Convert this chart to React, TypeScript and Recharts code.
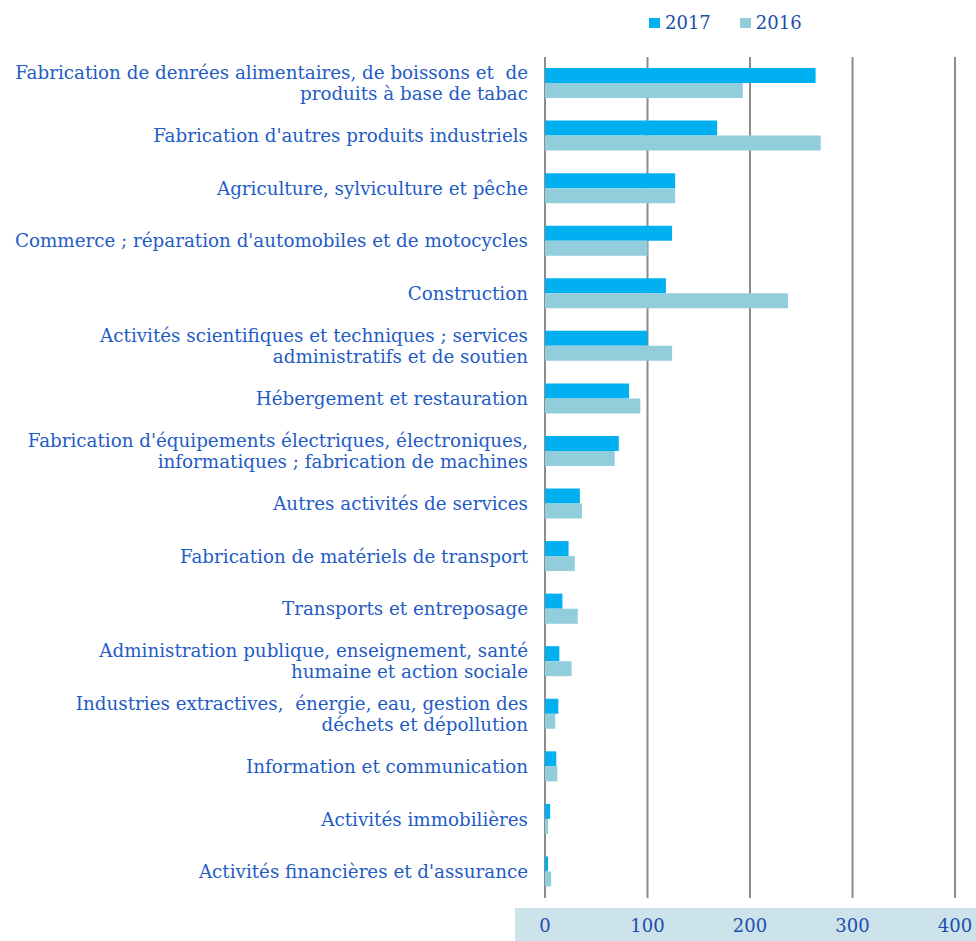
import { BarChart, Bar, XAxis, YAxis, CartesianGrid } from "recharts";

const categories = [
  "Fabrication de denrées alimentaires, de boissons et  de\nproduits à base de tabac",
  "Fabrication d'autres produits industriels",
  "Agriculture, sylviculture et pêche",
  "Commerce ; réparation d'automobiles et de motocycles",
  "Construction",
  "Activités scientifiques et techniques ; services\nadministratifs et de soutien",
  "Hébergement et restauration",
  "Fabrication d'équipements électriques, électroniques,\ninformatiques ; fabrication de machines",
  "Autres activités de services",
  "Fabrication de matériels de transport",
  "Transports et entreposage",
  "Administration publique, enseignement, santé\nhumaine et action sociale",
  "Industries extractives,  énergie, eau, gestion des\ndéchets et dépollution",
  "Information et communication",
  "Activités immobilières",
  "Activités financières et d'assurance",
];

const values2017 = [264, 168, 127, 124, 118, 100, 82, 72, 34, 23, 17, 14, 13, 11, 5, 3];
const values2016 = [193, 269, 127, 100, 237, 124, 93, 68, 36, 29, 32, 26, 10, 12, 3, 6];
const xTicks = [0, 100, 200, 300, 400];

const data = categories.map((name, i) => ({ name, y2017: values2017[i], y2016: values2016[i] }));

const FONT = "'DejaVu Serif', Georgia, serif";
const LABEL = "#1f5cc6";
const DARK = "#1b4fae";

function CategoryTick({ x, y, payload }: any) {
  const lines = String(payload.value).split("\n");
  const lh = 21;
  return (
    <text x={x} y={y} textAnchor="end" fill={LABEL} fontSize={18.3} fontFamily={FONT} style={{ whiteSpace: "pre" }}>
      {lines.map((l, i) => (
        <tspan key={i} x={x} y={y + (i - (lines.length - 1) / 2) * lh} dominantBaseline="central">{l}</tspan>
      ))}
    </text>
  );
}

function ValueTick({ x, y, payload }: any) {
  return (
    <text x={x} y={y} textAnchor="middle" dominantBaseline="central" fill={DARK} fontSize={18} fontFamily={FONT}>
      {payload.value}
    </text>
  );
}

function LegendBox() {
  const items = [
    { label: "2017", color: "#00b0f0" },
    { label: "2016", color: "#92cddc" },
  ];
  return (
    <div style={{ position: "absolute", left: 649, top: 12, display: "flex", gap: 29, fontFamily: FONT, fontSize: 18, color: DARK }}>
      {items.map((it) => (
        <div key={it.label} style={{ display: "flex", alignItems: "center", gap: 5 }}>
          <span style={{ width: 11, height: 10, background: it.color, display: "inline-block" }} />
          <span>{it.label}</span>
        </div>
      ))}
    </div>
  );
}

export default function App() {
  return (
    <div style={{ position: "relative", width: 976, height: 941, background: "#fff" }}>
      <style>{`body{margin:0}`}</style>
      <div style={{ position: "absolute", left: 515, top: 908, width: 461, height: 33, background: "#cde3eb" }} />
      <LegendBox />
      <div style={{ position: "absolute", left: 0, top: 0 }}>
        <BarChart width={976} height={941} data={data} layout="vertical" barSize={15} barGap={0}
          margin={{ top: 57, right: 21, left: 0, bottom: 0 }}>
          <CartesianGrid horizontal={false} vertical stroke="#8c8c8c" strokeWidth={2} />
          <XAxis type="number" domain={[0, 400]} ticks={xTicks} axisLine={false} tickLine={false}
            tickSize={0} tickMargin={27} height={43} tick={<ValueTick />} />
          <YAxis type="category" dataKey="name" width={545} axisLine={false} tickLine={false}
            tickSize={0} tickMargin={17} interval={0} tick={<CategoryTick />} />
          <Bar dataKey="y2017" name="2017" fill="#00b0f0" isAnimationActive={false} />
          <Bar dataKey="y2016" name="2016" fill="#92cddc" isAnimationActive={false} />
        </BarChart>
      </div>
    </div>
  );
}
